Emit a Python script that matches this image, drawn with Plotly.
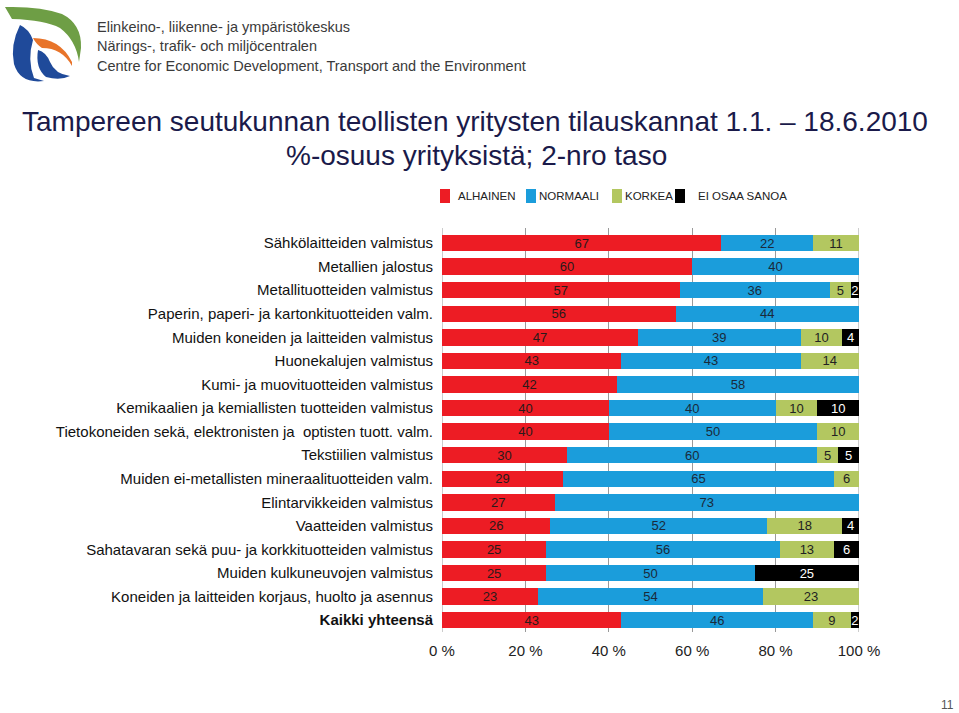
import plotly.graph_objects as go

categories = [
    "Sähkölaitteiden valmistus",
    "Metallien jalostus",
    "Metallituotteiden valmistus",
    "Paperin, paperi- ja kartonkituotteiden valm.",
    "Muiden koneiden ja laitteiden valmistus",
    "Huonekalujen valmistus",
    "Kumi- ja muovituotteiden valmistus",
    "Kemikaalien ja kemiallisten tuotteiden valmistus",
    "Tietokoneiden sekä, elektronisten ja  optisten tuott. valm.",
    "Tekstiilien valmistus",
    "Muiden ei-metallisten mineraalituotteiden valm.",
    "Elintarvikkeiden valmistus",
    "Vaatteiden valmistus",
    "Sahatavaran sekä puu- ja korkkituotteiden valmistus",
    "Muiden kulkuneuvojen valmistus",
    "Koneiden ja laitteiden korjaus, huolto ja asennus",
    "Kaikki yhteensä",
]
alhainen = [67, 60, 57, 56, 47, 43, 42, 40, 40, 30, 29, 27, 26, 25, 25, 23, 43]
normaali = [22, 40, 36, 44, 39, 43, 58, 40, 50, 60, 65, 73, 52, 56, 50, 54, 46]
korkea = [11, 0, 5, 0, 10, 14, 0, 10, 10, 5, 6, 0, 18, 13, 0, 23, 9]
ei_osaa = [0, 0, 2, 0, 4, 0, 0, 10, 0, 5, 0, 0, 4, 6, 25, 0, 2]
series_names = ["ALHAINEN", "NORMAALI", "KORKEA", "EI OSAA SANOA"]
series_values = [alhainen, normaali, korkea, ei_osaa]
series_colors = ["#ED1C24", "#1B9DDB", "#B3C760", "#000000"]
text_colors = ["#2a1a1a", "#1a2a3a", "#222222", "#ffffff"]
tick_vals = [0, 20, 40, 60, 80, 100]
tick_text = ["0 %", "20 %", "40 %", "60 %", "80 %", "100 %"]

W, H = 959, 713
L, R, T, B = 442, 859, 228, 632
SANS = "Liberation Sans, Arial, sans-serif"

def px(x):
    return (x - L) / (R - L)

def py(y):
    return (B - y) / (B - T)

fig = go.Figure()
for name, vals, col, tcol in zip(series_names, series_values, series_colors, text_colors):
    fig.add_trace(go.Bar(
        y=categories, x=vals, orientation="h", name=name,
        marker=dict(color=col, line=dict(width=0)),
        text=[str(v) if v > 0 else "" for v in vals],
        textposition="inside", insidetextanchor="middle", textangle=0,
        constraintext="none",
        textfont=dict(family=SANS, size=13, color=tcol),
        hoverinfo="skip", showlegend=False,
    ))

ticktext_y = [c if c != "Kaikki yhteensä" else "<b>Kaikki yhteensä</b>" for c in categories]

fig.update_layout(
    width=W, height=H,
    barmode="stack", bargap=0.30,
    plot_bgcolor="white", paper_bgcolor="white",
    margin=dict(l=L, r=W - R, t=T, b=H - B, pad=0),
    uniformtext=dict(minsize=13, mode="show"),
    showlegend=False,
    xaxis=dict(range=[0, 100], tickvals=tick_vals, ticktext=tick_text,
               showgrid=True, gridcolor="#9a9a9a", gridwidth=1,
               zeroline=False, showline=False, ticks="",
               tickfont=dict(family=SANS, size=15, color="#222222"),
               ticklabelstandoff=8, fixedrange=True),
    yaxis=dict(type="category", categoryorder="array", categoryarray=categories,
               tickvals=categories, ticktext=ticktext_y,
               range=[len(categories) - 1 + 0.5, -0.64],
               showgrid=False, zeroline=False, ticks="",
               tickfont=dict(family=SANS, size=15, color="#111111"),
               ticklabelstandoff=8, fixedrange=True),
)

annotations = [
    dict(text="Tampereen seutukunnan teollisten yritysten tilauskannat 1.1. – 18.6.2010",
         x=px(475), y=py(121), font=dict(family=SANS, size=28, color="#1a1a4a")),
    dict(text="%-osuus yrityksistä; 2-nro taso",
         x=px(476), y=py(155), font=dict(family=SANS, size=28, color="#1a1a4a")),
    dict(text="Elinkeino-, liikenne- ja ympäristökeskus", x=px(95), y=py(27), xanchor="left",
         font=dict(family=SANS, size=14.5, color="#3a3a3a")),
    dict(text="Närings-, trafik- och miljöcentralen", x=px(95), y=py(46), xanchor="left",
         font=dict(family=SANS, size=14.5, color="#3a3a3a")),
    dict(text="Centre for Economic Development, Transport and the Environment", x=px(95), y=py(66),
         xanchor="left", font=dict(family=SANS, size=14.5, color="#3a3a3a")),
    dict(text="11", x=px(947), y=py(705), font=dict(family=SANS, size=12, color="#555555")),
]

# manual legend (squares + labels)
legend_sq_x = [440, 526, 612, 675]
legend_tx_x = [456, 537, 623, 696]
for name, col, sx, tx in zip(series_names, series_colors, legend_sq_x, legend_tx_x):
    fig.add_shape(type="rect", xref="paper", yref="paper",
                  x0=px(sx), x1=px(sx + 10), y0=py(203), y1=py(189),
                  fillcolor=col, line=dict(width=0))
    annotations.append(dict(text=name, x=px(tx), y=py(196), xanchor="left",
                            font=dict(family=SANS, size=11.5, color="#222222")))

for a in annotations:
    a.setdefault("xanchor", "center")
    fig.add_annotation(xref="paper", yref="paper", yanchor="middle", showarrow=False, **a)

for xv in (0, 100):
    fig.add_shape(type="line", xref="x", yref="paper", x0=xv, x1=xv, y0=0, y1=1,
                  line=dict(color="#9a9a9a", width=1), layer="below")

def qpath(cmds):
    out = []
    for c in cmds:
        if c[0] == "M":
            out.append(f"M {px(c[1]):.4f},{py(c[2]):.4f}")
        elif c[0] == "Q":
            out.append(f"Q {px(c[1]):.4f},{py(c[2]):.4f} {px(c[3]):.4f},{py(c[4]):.4f}")
        elif c[0] == "L":
            out.append(f"L {px(c[1]):.4f},{py(c[2]):.4f}")
    return " ".join(out) + " Z"

# logo (decorative)
green = qpath([("M", 5, 7), ("Q", 40, 6, 62, 14), ("Q", 82, 24, 81, 48), ("L", 79, 62),
               ("Q", 76, 40, 60, 28), ("Q", 45, 20, 12, 19)])
orange = qpath([("M", 33, 38), ("Q", 60, 38, 72, 62), ("L", 72, 66), ("Q", 62, 48, 42, 48),
                ("Q", 36, 44, 33, 38)])
blue1 = qpath([("M", 20, 25), ("Q", 10, 45, 14, 64), ("Q", 20, 84, 44, 81), ("L", 34, 78),
               ("Q", 27, 60, 33, 40), ("Q", 29, 29, 20, 25)])
blue2 = qpath([("M", 38, 50), ("Q", 35, 68, 46, 77), ("Q", 60, 81, 70, 76), ("Q", 55, 74, 50, 62),
               ("Q", 46, 52, 38, 50)])
for p, c in [(green, "#6E9E45"), (orange, "#E8742A"), (blue1, "#1F4A9A"), (blue2, "#1F4A9A")]:
    fig.add_shape(type="path", xref="paper", yref="paper", path=p,
                  fillcolor=c, line=dict(width=0))

fig.write_html("out.html", config={"displayModeBar": False},
               post_script="document.body.style.margin='0';document.body.style.overflow='hidden';")
